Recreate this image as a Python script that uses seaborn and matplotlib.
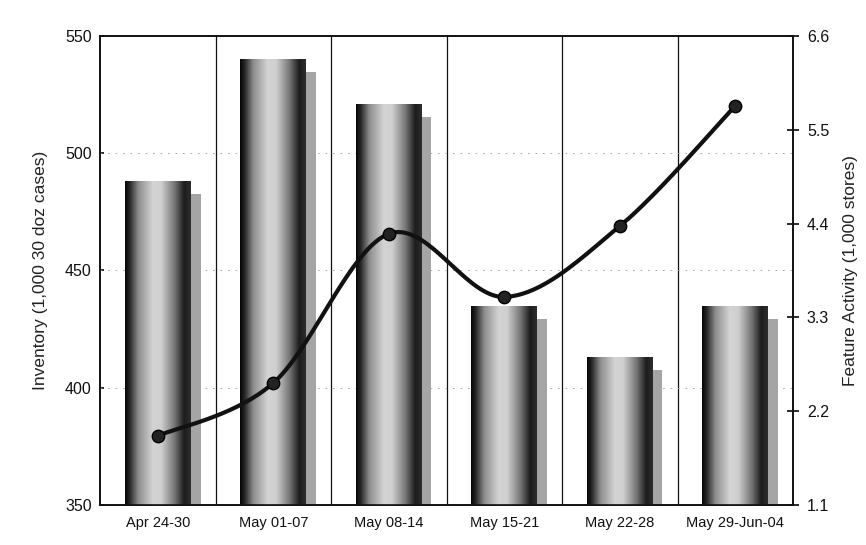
import numpy as np
import pandas as pd
import matplotlib
matplotlib.use("Agg")
import matplotlib.pyplot as plt
from matplotlib.colors import LinearSegmentedColormap
from matplotlib.patches import Rectangle
import seaborn as sns

# data
weeks = ["Apr 24-30", "May 01-07", "May 08-14", "May 15-21", "May 22-28", "May 29-Jun-04"]
inventory = [488, 540, 521, 435, 413, 435]
feature_activity = [1.91, 2.53, 4.28, 3.54, 4.37, 5.78]
left_ticks = [350, 400, 450, 500, 550]
right_ticks = [1.1, 2.2, 3.3, 4.4, 5.5, 6.6]

sns.set_theme(style="white")
plt.rcParams['font.family'] = ['Liberation Sans', 'DejaVu Sans']

fig = plt.figure(figsize=(8.66, 5.45), dpi=100)
ax = fig.add_axes([0.1155, 0.0734, 0.8002, 0.8606])

df = pd.DataFrame({"Week": weeks, "Inventory": inventory})
sns.barplot(data=df, x="Week", y="Inventory", color="white", width=0.57,
            linewidth=0, ax=ax, zorder=3)

# cylinder look: dark - light - dark gradient inside every bar, plus a grey shadow
cyl = LinearSegmentedColormap.from_list("cyl", [
    (0.0, "#050505"), (0.07, "#262626"), (0.2, "#8c8c8c"), (0.42, "#d4d4d4"),
    (0.55, "#cfcfcf"), (0.75, "#777777"), (0.9, "#1c1c1c"), (1.0, "#2e2e2e")])
grad = np.linspace(0, 1, 256).reshape(1, -1)
for p in list(ax.patches):
    x0, w, h = p.get_x(), p.get_width(), p.get_height()
    im = ax.imshow(grad, cmap=cyl, extent=[x0, x0 + w, 350, h], aspect="auto",
                   zorder=3, interpolation="bilinear")
    im.set_clip_path(p)
    ax.add_patch(Rectangle((x0 + w, 350), 0.085, h - 355.5, facecolor="#a5a5a5",
                           edgecolor="none", zorder=2))

ax.set_xlim(-0.5, len(weeks) - 0.5)
ax.set_ylim(350, 550)
ax.set_yticks(left_ticks)

# category separators and faint dotted horizontal grid
for i in range(1, len(weeks)):
    ax.axvline(i - 0.5, color="#111111", lw=0.9, zorder=1)
for t in left_ticks[1:-1]:
    ax.axhline(t, color="#9a9a9a", lw=0.6, ls=(0, (2, 7)), zorder=1)

ax.set_xlabel("")
ax.set_ylabel("Inventory (1,000 30 doz cases)", fontsize=12.5, color="#222222", labelpad=12)
ax.tick_params(axis="x", length=0, labelsize=10.5, pad=8, colors="#111111")
ax.tick_params(axis="y", direction="in", length=3, labelsize=11.5, colors="#111111", pad=6)
for s in ax.spines.values():
    s.set_color("#111111")
    s.set_linewidth(1.2)

# smoothed line (Excel-style bezier through the points)
ax2 = ax.twinx()
xs = np.arange(len(weeks), dtype=float)
ys = np.array(feature_activity)
px = np.concatenate([[xs[0]], xs, [xs[-1]]])
py = np.concatenate([[ys[0]], ys, [ys[-1]]])
cx, cy = [], []
t = np.linspace(0, 1, 40)
for i in range(1, len(xs)):
    p0 = np.array([px[i], py[i]])
    p3 = np.array([px[i + 1], py[i + 1]])
    c1 = p0 + (p3 - np.array([px[i - 1], py[i - 1]])) / 6
    c2 = p3 - (np.array([px[i + 2], py[i + 2]]) - p0) / 6
    seg = ((1 - t) ** 3)[:, None] * p0 + (3 * (1 - t) ** 2 * t)[:, None] * c1 \
        + (3 * (1 - t) * t ** 2)[:, None] * c2 + (t ** 3)[:, None] * p3
    cx.extend(seg[:, 0])
    cy.extend(seg[:, 1])
curve = pd.DataFrame({"x": cx, "y": cy})
sns.lineplot(data=curve, x="x", y="y", sort=False, color="#111111", lw=3, ax=ax2, zorder=5)
sns.scatterplot(x=xs, y=ys, s=80, color="#222222", edgecolor="#000000", linewidth=1,
                ax=ax2, zorder=6)

ax2.set_ylim(1.1, 6.6)
ax2.set_yticks(right_ticks)
ax2.set_yticklabels([f"{v:.1f}" for v in right_ticks])
ax2.set_xlim(-0.5, len(weeks) - 0.5)
ax2.set_ylabel("Feature Activity (1,000 stores)", fontsize=12.5, color="#222222", labelpad=10)
ax2.set_xlabel("")
ax2.tick_params(axis="y", direction="inout", length=8, labelsize=11.5, colors="#111111", pad=6)
for s in ax2.spines.values():
    s.set_color("#111111")
    s.set_linewidth(1.2)

fig.savefig("out.png", dpi=100)
